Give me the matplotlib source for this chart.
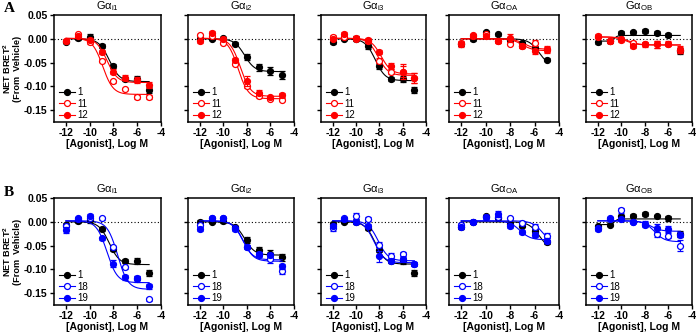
import numpy as np
import matplotlib
matplotlib.use("Agg")
import matplotlib.pyplot as plt
from matplotlib.lines import Line2D

plt.rcParams['font.family'] = ['Liberation Sans', 'DejaVu Sans']
plt.rcParams['mathtext.fontset'] = 'custom'
plt.rcParams['mathtext.rm'] = 'Liberation Sans'
plt.rcParams['mathtext.bf'] = 'Liberation Sans:bold'

# ---------------- data ----------------
log_conc = [-12, -11, -10, -9, -8, -7, -6, -5]
subunits = ["i1", "i2", "i3", "OA", "OB"]
labels_a = ["1", "11", "12"]
labels_b = ["1", "18", "19"]
colors_a = ["black", "#ff0000", "#ff0000"]
colors_b = ["black", "#0000ff", "#0000ff"]
open_marker = [False, True, False]

# Row A: means (series 1, 11, 12)
A_I1 = [[-0.006, 0.001, 0.004, -0.016, -0.058, -0.084, -0.084, -0.108],
        [-0.004, 0.009, -0.007, -0.046, -0.089, -0.106, -0.123, -0.123],
        [-0.004, 0.006, -0.003, -0.028, -0.069, -0.082, -0.087, -0.097]]
A_I2 = [[0.000, 0.000, 0.001, -0.010, -0.038, -0.060, -0.068, -0.076],
        [0.008, 0.005, -0.009, -0.053, -0.100, -0.121, -0.126, -0.128],
        [-0.005, 0.013, 0.000, -0.044, -0.089, -0.113, -0.123, -0.118]]
A_I3 = [[-0.007, 0.000, 0.000, -0.016, -0.058, -0.084, -0.084, -0.108],
        [0.004, 0.003, 0.000, -0.005, -0.046, -0.069, -0.069, -0.083],
        [0.000, 0.011, 0.002, -0.003, -0.028, -0.057, -0.069, -0.083]]
A_OA = [[-0.011, -0.001, 0.014, 0.009, -0.003, -0.009, -0.019, -0.044],
        [-0.009, 0.006, 0.009, -0.005, -0.010, -0.016, -0.009, -0.021],
        [-0.012, 0.007, 0.006, -0.005, 0.002, -0.016, -0.026, -0.023]]
A_OB = [[-0.007, -0.005, 0.013, 0.014, 0.016, 0.013, 0.008, -0.026],
        [0.006, -0.005, 0.000, -0.009, -0.012, -0.012, -0.010, -0.023],
        [0.004, -0.005, -0.003, -0.016, -0.012, -0.012, -0.010, -0.024]]

# Row B: means (series 1, 18, 19)
B_I1 = [[-0.006, 0.001, 0.003, -0.015, -0.058, -0.083, -0.082, -0.108],
        [-0.008, 0.005, 0.008, 0.007, -0.054, -0.096, -0.119, -0.163],
        [-0.018, 0.007, 0.013, -0.035, -0.088, -0.117, -0.121, -0.136]]
B_I2 = [[0.000, 0.000, 0.001, -0.011, -0.039, -0.060, -0.068, -0.075],
        [-0.007, 0.008, 0.008, -0.016, -0.052, -0.070, -0.078, -0.104],
        [-0.015, 0.007, 0.008, -0.013, -0.054, -0.068, -0.070, -0.094]]
B_I3 = [[-0.004, 0.000, 0.000, -0.013, -0.059, -0.083, -0.083, -0.108],
        [-0.013, 0.007, 0.012, 0.005, -0.048, -0.071, -0.068, -0.089],
        [-0.008, 0.005, 0.000, -0.009, -0.073, -0.083, -0.078, -0.089]]
B_OA = [[-0.011, -0.001, 0.012, 0.008, -0.004, -0.008, -0.020, -0.043],
        [-0.006, 0.000, 0.010, 0.010, 0.007, -0.002, -0.010, -0.029],
        [-0.011, 0.000, 0.009, 0.017, -0.009, -0.021, -0.027, -0.040]]
B_OB = [[-0.009, -0.006, 0.012, 0.013, 0.016, 0.012, 0.007, -0.025],
        [-0.014, 0.006, 0.024, 0.000, -0.004, -0.025, -0.029, -0.050],
        [-0.016, 0.007, 0.005, 0.000, -0.006, -0.013, -0.015, -0.027]]

# error bars (SEM)
A_I1_ERR = [[0.003, 0.003, 0.005, 0.004, 0.004, 0.004, 0.006, 0.006],
            [0.002, 0.003, 0.003, 0.003, 0.003, 0.002, 0.004, 0.004],
            [0.003, 0.004, 0.004, 0.004, 0.005, 0.005, 0.006, 0.007]]
A_I2_ERR = [[0.003, 0.003, 0.003, 0.003, 0.006, 0.008, 0.009, 0.008],
            [0.003, 0.003, 0.003, 0.003, 0.003, 0.004, 0.002, 0.003],
            [0.003, 0.003, 0.003, 0.004, 0.010, 0.006, 0.003, 0.004]]
A_I3_ERR = [[0.003, 0.003, 0.005, 0.005, 0.005, 0.004, 0.006, 0.006],
            [0.003, 0.003, 0.003, 0.004, 0.005, 0.006, 0.012, 0.010],
            [0.003, 0.003, 0.004, 0.004, 0.004, 0.007, 0.016, 0.010]]
A_OA_ERR = [[0.004, 0.003, 0.003, 0.003, 0.003, 0.003, 0.004, 0.003],
            [0.004, 0.003, 0.003, 0.003, 0.003, 0.004, 0.006, 0.006],
            [0.006, 0.003, 0.004, 0.004, 0.008, 0.004, 0.005, 0.006]]
A_OB_ERR = [[0.003, 0.003, 0.003, 0.003, 0.004, 0.003, 0.005, 0.006],
            [0.003, 0.003, 0.003, 0.004, 0.005, 0.008, 0.006, 0.007],
            [0.003, 0.004, 0.003, 0.004, 0.004, 0.008, 0.004, 0.006]]
B_I1_ERR = [[0.003, 0.003, 0.005, 0.004, 0.004, 0.004, 0.006, 0.006],
            [0.003, 0.003, 0.003, 0.004, 0.004, 0.004, 0.004, 0.003],
            [0.006, 0.004, 0.004, 0.004, 0.008, 0.006, 0.006, 0.006]]
B_I2_ERR = [[0.003, 0.003, 0.003, 0.003, 0.006, 0.008, 0.009, 0.008],
            [0.003, 0.003, 0.003, 0.003, 0.004, 0.005, 0.008, 0.006],
            [0.004, 0.003, 0.003, 0.003, 0.004, 0.004, 0.005, 0.006]]
B_I3_ERR = [[0.003, 0.003, 0.005, 0.005, 0.005, 0.004, 0.006, 0.006],
            [0.006, 0.003, 0.006, 0.004, 0.005, 0.005, 0.004, 0.005],
            [0.004, 0.003, 0.004, 0.004, 0.012, 0.004, 0.004, 0.005]]
B_OA_ERR = [[0.004, 0.003, 0.003, 0.003, 0.003, 0.003, 0.004, 0.004],
            [0.003, 0.003, 0.003, 0.003, 0.003, 0.004, 0.005, 0.006],
            [0.004, 0.003, 0.004, 0.006, 0.005, 0.004, 0.005, 0.005]]
B_OB_ERR = [[0.003, 0.003, 0.003, 0.003, 0.004, 0.003, 0.006, 0.006],
            [0.003, 0.003, 0.005, 0.003, 0.005, 0.008, 0.006, 0.012],
            [0.003, 0.003, 0.003, 0.003, 0.005, 0.008, 0.006, 0.006]]

# four-parameter logistic fit parameters (top, bottom, logEC50, hill)
A_I1_FIT = [(0.000, -0.090, -8.35, 1.0), (0.001, -0.117, -8.90, 1.0), (0.001, -0.092, -8.55, 1.0)]
A_I2_FIT = [(0.000, -0.069, -8.20, 1.0), (0.001, -0.126, -8.75, 1.0), (0.001, -0.121, -8.55, 1.0)]
A_I3_FIT = [(0.000, -0.088, -8.35, 1.0), (0.001, -0.077, -8.10, 1.0), (0.001, -0.074, -7.85, 1.0)]
A_OA_FIT = [(0.000, -0.060, -5.60, 1.0), (0.000, -0.022, -6.80, 1.0), (0.000, -0.025, -7.00, 1.0)]
A_OB_FIT = [(-0.005, 0.007, -10.6, 3.0), (0.004, -0.013, -9.60, 1.0), (0.004, -0.013, -9.40, 1.0)]
B_I1_FIT = [(0.000, -0.090, -8.35, 1.0), (0.002, -0.142, -7.65, 1.0), (0.002, -0.128, -8.55, 1.0)]
B_I2_FIT = [(0.000, -0.070, -8.20, 1.0), (0.002, -0.083, -8.30, 1.0), (0.002, -0.080, -8.35, 1.0)]
B_I3_FIT = [(0.000, -0.089, -8.35, 1.0), (0.002, -0.082, -8.10, 1.0), (0.002, -0.086, -8.45, 1.0)]
B_OA_FIT = [(0.000, -0.060, -5.60, 1.0), (0.002, -0.050, -5.30, 1.0), (0.002, -0.038, -7.20, 1.0)]
B_OB_FIT = [(-0.006, 0.006, -10.6, 3.0), (0.002, -0.042, -7.20, 1.0), (0.002, -0.020, -7.50, 1.0)]

row_means = [[A_I1, A_I2, A_I3, A_OA, A_OB], [B_I1, B_I2, B_I3, B_OA, B_OB]]
row_errs = [[A_I1_ERR, A_I2_ERR, A_I3_ERR, A_OA_ERR, A_OB_ERR],
            [B_I1_ERR, B_I2_ERR, B_I3_ERR, B_OA_ERR, B_OB_ERR]]
row_fits = [[A_I1_FIT, A_I2_FIT, A_I3_FIT, A_OA_FIT, A_OB_FIT],
            [B_I1_FIT, B_I2_FIT, B_I3_FIT, B_OA_FIT, B_OB_FIT]]
row_labels = [labels_a, labels_b]
row_colors = [colors_a, colors_b]
row_letters = ["A", "B"]

yticks = [0.05, 0.0, -0.05, -0.10, -0.15]
ytick_labels = ["0.05", "0.00", "-0.05", "-0.10", "-0.15"]
xticks = [-12, -10, -8, -6, -4]

# ---------------- layout ----------------
W, H = 696, 333
fig = plt.figure(figsize=(W / 100, H / 100), dpi=100)

lefts = [54, 188, 321, 449, 586]
widths = [107, 106, 105, 110, 106]
tops = [15, 198]
ph = 107


def four_pl(x, top, bottom, ec50, hill):
    return bottom + (top - bottom) / (1 + 10 ** ((x - ec50) * hill))


xs = np.linspace(-12, -5, 200)
ms = 4.3
lw = 0.8

for r in range(2):
    for c in range(5):
        ax = fig.add_axes([lefts[c] / W, 1 - (tops[r] + ph) / H, widths[c] / W, ph / H])
        ax.set_xlim(-13, -4)
        ax.set_ylim(-0.175, 0.05)
        ax.axhline(0, color="black", lw=0.8, ls=(0, (1, 2)), zorder=1)
        means = row_means[r][c]
        errs = row_errs[r][c]
        fits = row_fits[r][c]
        handles = []
        for s in range(3):
            col = row_colors[r][s]
            mfc = "white" if open_marker[s] else col
            ax.plot(xs, four_pl(xs, *fits[s]), color=col, lw=lw, zorder=2 + s)
            ax.errorbar(log_conc, means[s], yerr=errs[s], fmt="o", ms=ms, color=col,
                        mfc=mfc, mec=col, mew=0.9, ecolor=col, elinewidth=0.8,
                        capsize=2, capthick=0.8, zorder=3 + s)
            handles.append(Line2D([], [], color=col, lw=lw, marker="o", ms=ms,
                                  mfc=mfc, mec=col, mew=0.9))
        ax.legend(handles, row_labels[r], loc="lower left",
                  bbox_to_anchor=(5 / widths[c], 2 / ph), borderaxespad=0,
                  borderpad=0, frameon=False, fontsize=7, handlelength=1.6,
                  handletextpad=0.3, labelspacing=0.15)
        ax.set_xticks(xticks)
        ax.set_xticklabels([str(t) for t in xticks], fontweight="bold", fontsize=7.5)
        ax.set_yticks(yticks)
        if c == 0:
            ax.set_yticklabels(ytick_labels, fontweight="bold", fontsize=7.5)
            ax.set_ylabel("NET BRET$^{\\mathbf{2}}$\n(From  Vehicle)", fontweight="bold",
                          fontsize=6.6, linespacing=1.0)
            ax.yaxis.set_label_coords(-0.30, 0.5)
        else:
            ax.set_yticklabels([])
        ax.tick_params(direction="out", length=3, width=1.0, pad=1.5)
        for sp in ax.spines.values():
            sp.set_linewidth(1.1)
        ax.set_xlabel("[Agonist], Log M", fontweight="bold", fontsize=7.5, labelpad=0.5)
        ax.set_title("Gα$_{\\mathregular{" + subunits[c] + "}}$", fontsize=8, pad=4)

    fig.text(4 / W, 1 - (tops[r] - 6) / H, row_letters[r], family=["Liberation Serif"],
             fontweight="bold", fontsize=11, va="center", ha="left")

fig.savefig("out.png", dpi=100)
